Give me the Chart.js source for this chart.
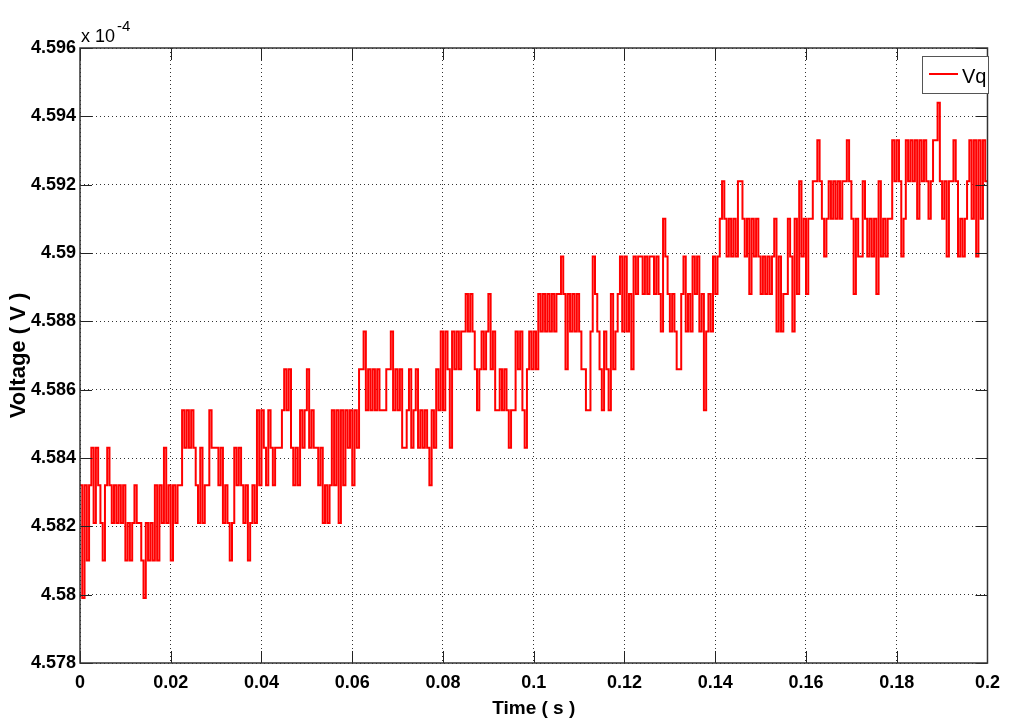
<!DOCTYPE html>
<html>
<head>
<meta charset="utf-8">
<script src="https://cdn.jsdelivr.net/npm/chart.js@4"></script>
<style>
html,body{margin:0;padding:0;background:#fff;}
#wrap{width:1009px;height:724px;position:relative;}
canvas{display:block;}
</style>
</head>
<body>
<div id="wrap"><canvas id="c" width="1009" height="724" style="width:1009px;height:724px"></canvas></div>
<script>
// ---------- data (values in units of 1e-4 V) ----------
const seriesLabel = 'Vq';
const sampleStep = 0.0005; // s between samples
const vq = [
4.5832,4.5799,4.5832,4.5810,4.5832,4.5843,4.5821,4.5843,4.5832,4.5821,
4.5810,4.5832,4.5843,4.5832,4.5821,4.5832,4.5821,4.5832,4.5821,4.5832,
4.5810,4.5821,4.5810,4.5821,4.5832,4.5821,4.5821,4.5810,4.5799,4.5821,
4.5810,4.5821,4.5810,4.5832,4.5810,4.5832,4.5821,4.5843,4.5821,4.5832,
4.5810,4.5832,4.5821,4.5832,4.5832,4.5854,4.5843,4.5854,4.5843,4.5854,
4.5843,4.5832,4.5821,4.5843,4.5821,4.5832,4.5832,4.5854,4.5843,4.5843,
4.5843,4.5832,4.5843,4.5821,4.5832,4.5821,4.5810,4.5821,4.5843,4.5832,
4.5843,4.5832,4.5821,4.5832,4.5810,4.5821,4.5832,4.5821,4.5854,4.5832,
4.5854,4.5843,4.5832,4.5854,4.5843,4.5832,4.5843,4.5843,4.5843,4.5854,
4.5866,4.5854,4.5866,4.5843,4.5832,4.5843,4.5832,4.5854,4.5843,4.5854,
4.5866,4.5843,4.5854,4.5843,4.5843,4.5832,4.5843,4.5821,4.5832,4.5821,
4.5832,4.5854,4.5832,4.5854,4.5821,4.5854,4.5832,4.5854,4.5843,4.5854,
4.5832,4.5854,4.5843,4.5866,4.5866,4.5877,4.5854,4.5866,4.5854,4.5866,
4.5854,4.5866,4.5854,4.5854,4.5854,4.5866,4.5866,4.5877,4.5854,4.5866,
4.5854,4.5866,4.5843,4.5843,4.5854,4.5866,4.5843,4.5854,4.5866,4.5843,
4.5854,4.5843,4.5854,4.5843,4.5832,4.5854,4.5843,4.5866,4.5854,4.5877,
4.5854,4.5877,4.5866,4.5843,4.5877,4.5866,4.5877,4.5866,4.5877,4.5877,
4.5888,4.5877,4.5888,4.5877,4.5866,4.5854,4.5866,4.5877,4.5866,4.5877,
4.5888,4.5866,4.5877,4.5854,4.5854,4.5866,4.5854,4.5866,4.5854,4.5843,
4.5854,4.5854,4.5877,4.5866,4.5877,4.5854,4.5843,4.5866,4.5877,4.5866,
4.5877,4.5866,4.5888,4.5877,4.5888,4.5877,4.5888,4.5877,4.5888,4.5877,
4.5888,4.5888,4.5899,4.5888,4.5866,4.5888,4.5877,4.5888,4.5877,4.5888,
4.5877,4.5866,4.5866,4.5854,4.5854,4.5877,4.5899,4.5888,4.5877,4.5866,
4.5854,4.5877,4.5866,4.5854,4.5888,4.5866,4.5877,4.5888,4.5899,4.5877,
4.5899,4.5877,4.5888,4.5866,4.5899,4.5888,4.5899,4.5899,4.5888,4.5899,
4.5888,4.5899,4.5899,4.5888,4.5899,4.5888,4.5877,4.5910,4.5899,4.5888,
4.5877,4.5888,4.5877,4.5866,4.5866,4.5888,4.5899,4.5877,4.5888,4.5877,
4.5899,4.5888,4.5899,4.5877,4.5888,4.5854,4.5877,4.5888,4.5877,4.5899,
4.5888,4.5899,4.5910,4.5921,4.5910,4.5899,4.5910,4.5899,4.5910,4.5899,
4.5921,4.5921,4.5910,4.5899,4.5910,4.5888,4.5910,4.5899,4.5910,4.5899,
4.5888,4.5899,4.5888,4.5899,4.5888,4.5899,4.5910,4.5877,4.5899,4.5877,
4.5888,4.5888,4.5910,4.5899,4.5877,4.5910,4.5888,4.5921,4.5899,4.5910,
4.5888,4.5910,4.5910,4.5921,4.5921,4.5933,4.5921,4.5910,4.5899,4.5910,
4.5921,4.5910,4.5921,4.5910,4.5921,4.5910,4.5921,4.5921,4.5933,4.5921,
4.5910,4.5888,4.5910,4.5899,4.5899,4.5921,4.5910,4.5899,4.5910,4.5899,
4.5910,4.5888,4.5921,4.5899,4.5910,4.5899,4.5910,4.5910,4.5933,4.5921,
4.5933,4.5921,4.5899,4.5910,4.5933,4.5921,4.5933,4.5921,4.5933,4.5910,
4.5933,4.5921,4.5933,4.5921,4.5910,4.5921,4.5933,4.5933,4.5944,4.5921,
4.5910,4.5921,4.5899,4.5921,4.5921,4.5933,4.5921,4.5899,4.5910,4.5899,
4.5910,4.5921,4.5933,4.5910,4.5933,4.5899,4.5933,4.5910,4.5933,4.5921,
4.5921
];
const xTicks = [0, 0.02, 0.04, 0.06, 0.08, 0.1, 0.12, 0.14, 0.16, 0.18, 0.2];
const yTicks = [4.578, 4.58, 4.582, 4.584, 4.586, 4.588, 4.59, 4.592, 4.594, 4.596];
const yScaleText = 'x 10';
const yScaleExp = '-4';
const xTitle = 'Time ( s )';
const yTitle = 'Voltage ( V )';
const times = vq.map((_, i) => +(i * sampleStep).toFixed(4));

// ---------- drawing ----------
const FONT = '"Liberation Sans Narrow","Liberation Sans",Arial,sans-serif';

const decor = {
  id: 'decor',
  afterDatasetsDraw(chart) {
    const {ctx, chartArea: a, scales: {x, y}} = chart;
    ctx.save();
    // inward tick marks (all four sides)
    const TL = 12;
    ctx.strokeStyle = '#222';
    ctx.lineWidth = 1;
    ctx.setLineDash([]);
    xTicks.forEach(v => {
      const px = Math.round(x.getPixelForValue(v)) + 0.5;
      ctx.beginPath();
      ctx.moveTo(px, a.bottom); ctx.lineTo(px, a.bottom - TL);
      ctx.moveTo(px, a.top); ctx.lineTo(px, a.top + TL);
      ctx.stroke();
    });
    yTicks.forEach(v => {
      const py = Math.round(y.getPixelForValue(v)) + 0.5;
      ctx.beginPath();
      ctx.moveTo(a.left, py); ctx.lineTo(a.left + TL, py);
      ctx.moveTo(a.right, py); ctx.lineTo(a.right - TL, py);
      ctx.stroke();
    });
    // frame
    ctx.strokeStyle = '#333';
    ctx.lineWidth = 1.5;
    ctx.strokeRect(a.left, a.top, a.right - a.left, a.bottom - a.top);

    // legend box (top-right, inside axes)
    const lx = 922.5, ly = 56.5, lw = 66, lh = 37;
    ctx.fillStyle = '#fff';
    ctx.fillRect(lx, ly, lw, lh);
    ctx.strokeStyle = '#555';
    ctx.lineWidth = 1;
    ctx.strokeRect(lx, ly, lw, lh);
    const ds = chart.data.datasets[0];
    ctx.strokeStyle = ds.borderColor;
    ctx.lineWidth = 2;
    ctx.beginPath();
    ctx.moveTo(929, 74); ctx.lineTo(958, 74);
    ctx.stroke();
    ctx.fillStyle = '#000';
    ctx.font = '20px ' + FONT;
    ctx.textBaseline = 'alphabetic';
    ctx.textAlign = 'left';
    ctx.fillText(ds.label, 962, 83);

    // exponent label above the y axis
    ctx.font = '18px ' + FONT;
    ctx.fillText(yScaleText, 81, 42);
    const w = ctx.measureText(yScaleText).width;
    ctx.font = '15px ' + FONT;
    ctx.fillText(yScaleExp, 81 + w + 2, 31);
    ctx.restore();
  }
};

const ctx = document.getElementById('c').getContext('2d');
new Chart(ctx, {
  type: 'line',
  data: {
    datasets: [{
      label: seriesLabel,
      data: times.map((t, i) => ({x: t, y: vq[i]})),
      borderColor: '#ff0000',
      backgroundColor: '#ff0000',
      borderWidth: 2,
      pointRadius: 0,
      stepped: true,
      fill: false
    }]
  },
  options: {
    responsive: false,
    animation: false,
    devicePixelRatio: 1,
    layout: {padding: {left: 0, right: 16, top: 48, bottom: 0}},
    plugins: {legend: {display: false}, tooltip: {enabled: false}},
    scales: {
      x: {
        type: 'linear',
        min: 0, max: 0.2,
        afterBuildTicks: s => { s.ticks = xTicks.map(v => ({value: v})); },
        afterFit: s => { s.height = 61; },
        grid: {color: '#333', lineWidth: 1, drawTicks: false},
        border: {display: false, dash: [1, 3]},
        ticks: {
          autoSkip: false, maxRotation: 0, padding: 9, color: '#000',
          font: {family: FONT, size: 18, weight: 'bold'},
          callback: v => String(+(+v).toFixed(2))
        },
        title: {
          display: true, text: xTitle, color: '#000',
          font: {family: FONT, size: 19, weight: 'bold'},
          padding: {top: 0, bottom: 4}
        }
      },
      y: {
        type: 'linear',
        min: 4.578, max: 4.596,
        afterBuildTicks: s => { s.ticks = yTicks.map(v => ({value: v})); },
        afterFit: s => { s.width = 80; },
        grid: {color: '#333', lineWidth: 1, drawTicks: false},
        border: {display: false, dash: [1, 3]},
        ticks: {
          autoSkip: false, padding: 4, color: '#000',
          font: {family: FONT, size: 18, weight: 'bold'},
          callback: v => String(+(+v).toFixed(3))
        },
        title: {
          display: true, text: yTitle, color: '#000',
          font: {family: FONT, size: 22, weight: 'bold'},
          padding: {top: 6, bottom: 0}
        }
      }
    }
  },
  plugins: [decor]
});
</script>
</body>
</html>
